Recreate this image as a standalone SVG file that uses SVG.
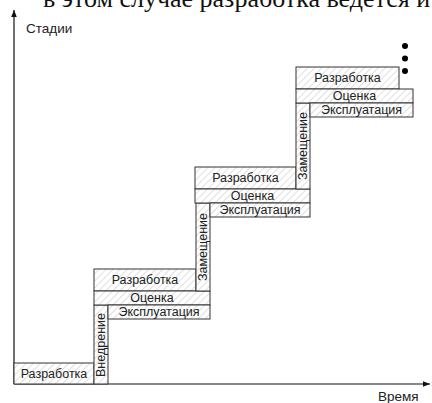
<svg xmlns="http://www.w3.org/2000/svg" width="432" height="403" viewBox="0 0 432 403">
<style>
.box{fill:url(#hatch);stroke:#333;stroke-width:1}
.lbl{font-family:"Liberation Sans",Arial,sans-serif;font-size:12.5px;fill:#222;text-anchor:middle;dominant-baseline:central}
.ax{font-family:"Liberation Sans",Arial,sans-serif;font-size:13.5px;fill:#222}
.axis{stroke:#111;stroke-width:1.2;fill:none}
</style>
<defs>
<pattern id="hatch" width="5" height="5" patternUnits="userSpaceOnUse" patternTransform="rotate(45)">
<rect width="5" height="5" fill="#fff"/>
<line x1="0" y1="0" x2="0" y2="5" stroke="#b8b8b8" stroke-width="0.9"/>
</pattern>
<marker id="arr" viewBox="0 0 10 10" refX="10" refY="5" markerWidth="7" markerHeight="7" orient="auto" markerUnits="userSpaceOnUse">
<path d="M0,1 L10,5 L0,9 Z" fill="#111"/>
</marker>
</defs>
<text x="43" y="7" font-family="'Liberation Serif','Times New Roman',serif" font-size="26" fill="#111">в этом случае разработка ведется и</text>
<g id="connectors">
<line class="axis" x1="14" y1="384" x2="14" y2="10" marker-end="url(#arr)"/>
<line class="axis" x1="14" y1="384" x2="430" y2="384" marker-end="url(#arr)"/>
</g>
<text class="ax" x="26" y="33">Стадии</text>
<text class="ax" x="378" y="401">Время</text>
<g id="dev0"><rect class="box" x="14" y="363" width="80" height="21"/><text class="lbl" x="54" y="374">Разработка</text></g>
<g id="impl"><rect class="box" x="94" y="305" width="14" height="79"/><text class="lbl" transform="translate(101,345) rotate(-90)">Внедрение</text></g>
<g id="dev1"><rect class="box" x="94" y="269" width="102" height="22"/><text class="lbl" x="145" y="280">Разработка</text></g>
<g id="eval1"><rect class="box" x="94" y="291" width="116" height="14"/><text class="lbl" x="152" y="298">Оценка</text></g>
<g id="ops1"><rect class="box" x="108" y="305" width="102" height="14"/><text class="lbl" x="159" y="312">Эксплуатация</text></g>
<g id="repl1"><rect class="box" x="196" y="203" width="14" height="88"/><text class="lbl" transform="translate(203,247) rotate(-90)">Замещение</text></g>
<g id="dev2"><rect class="box" x="195" y="167" width="101" height="22"/><text class="lbl" x="245.5" y="178">Разработка</text></g>
<g id="eval2"><rect class="box" x="195" y="189" width="115" height="14"/><text class="lbl" x="252.5" y="196">Оценка</text></g>
<g id="ops2"><rect class="box" x="210" y="203" width="100" height="14"/><text class="lbl" x="260" y="210">Эксплуатация</text></g>
<g id="repl2"><rect class="box" x="296" y="103" width="14" height="86"/><text class="lbl" transform="translate(303,146) rotate(-90)">Замещение</text></g>
<g id="dev3"><rect class="box" x="296" y="67" width="103" height="22"/><text class="lbl" x="347.5" y="78">Разработка</text></g>
<g id="eval3"><rect class="box" x="296" y="89" width="117" height="14"/><text class="lbl" x="354.5" y="96">Оценка</text></g>
<g id="ops3"><rect class="box" x="310" y="103" width="103" height="14"/><text class="lbl" x="361.5" y="110">Эксплуатация</text></g>
<g id="more" fill="#000"><circle cx="405" cy="46" r="3"/><circle cx="405" cy="58.5" r="3"/><circle cx="405" cy="71" r="3"/></g>
</svg>
